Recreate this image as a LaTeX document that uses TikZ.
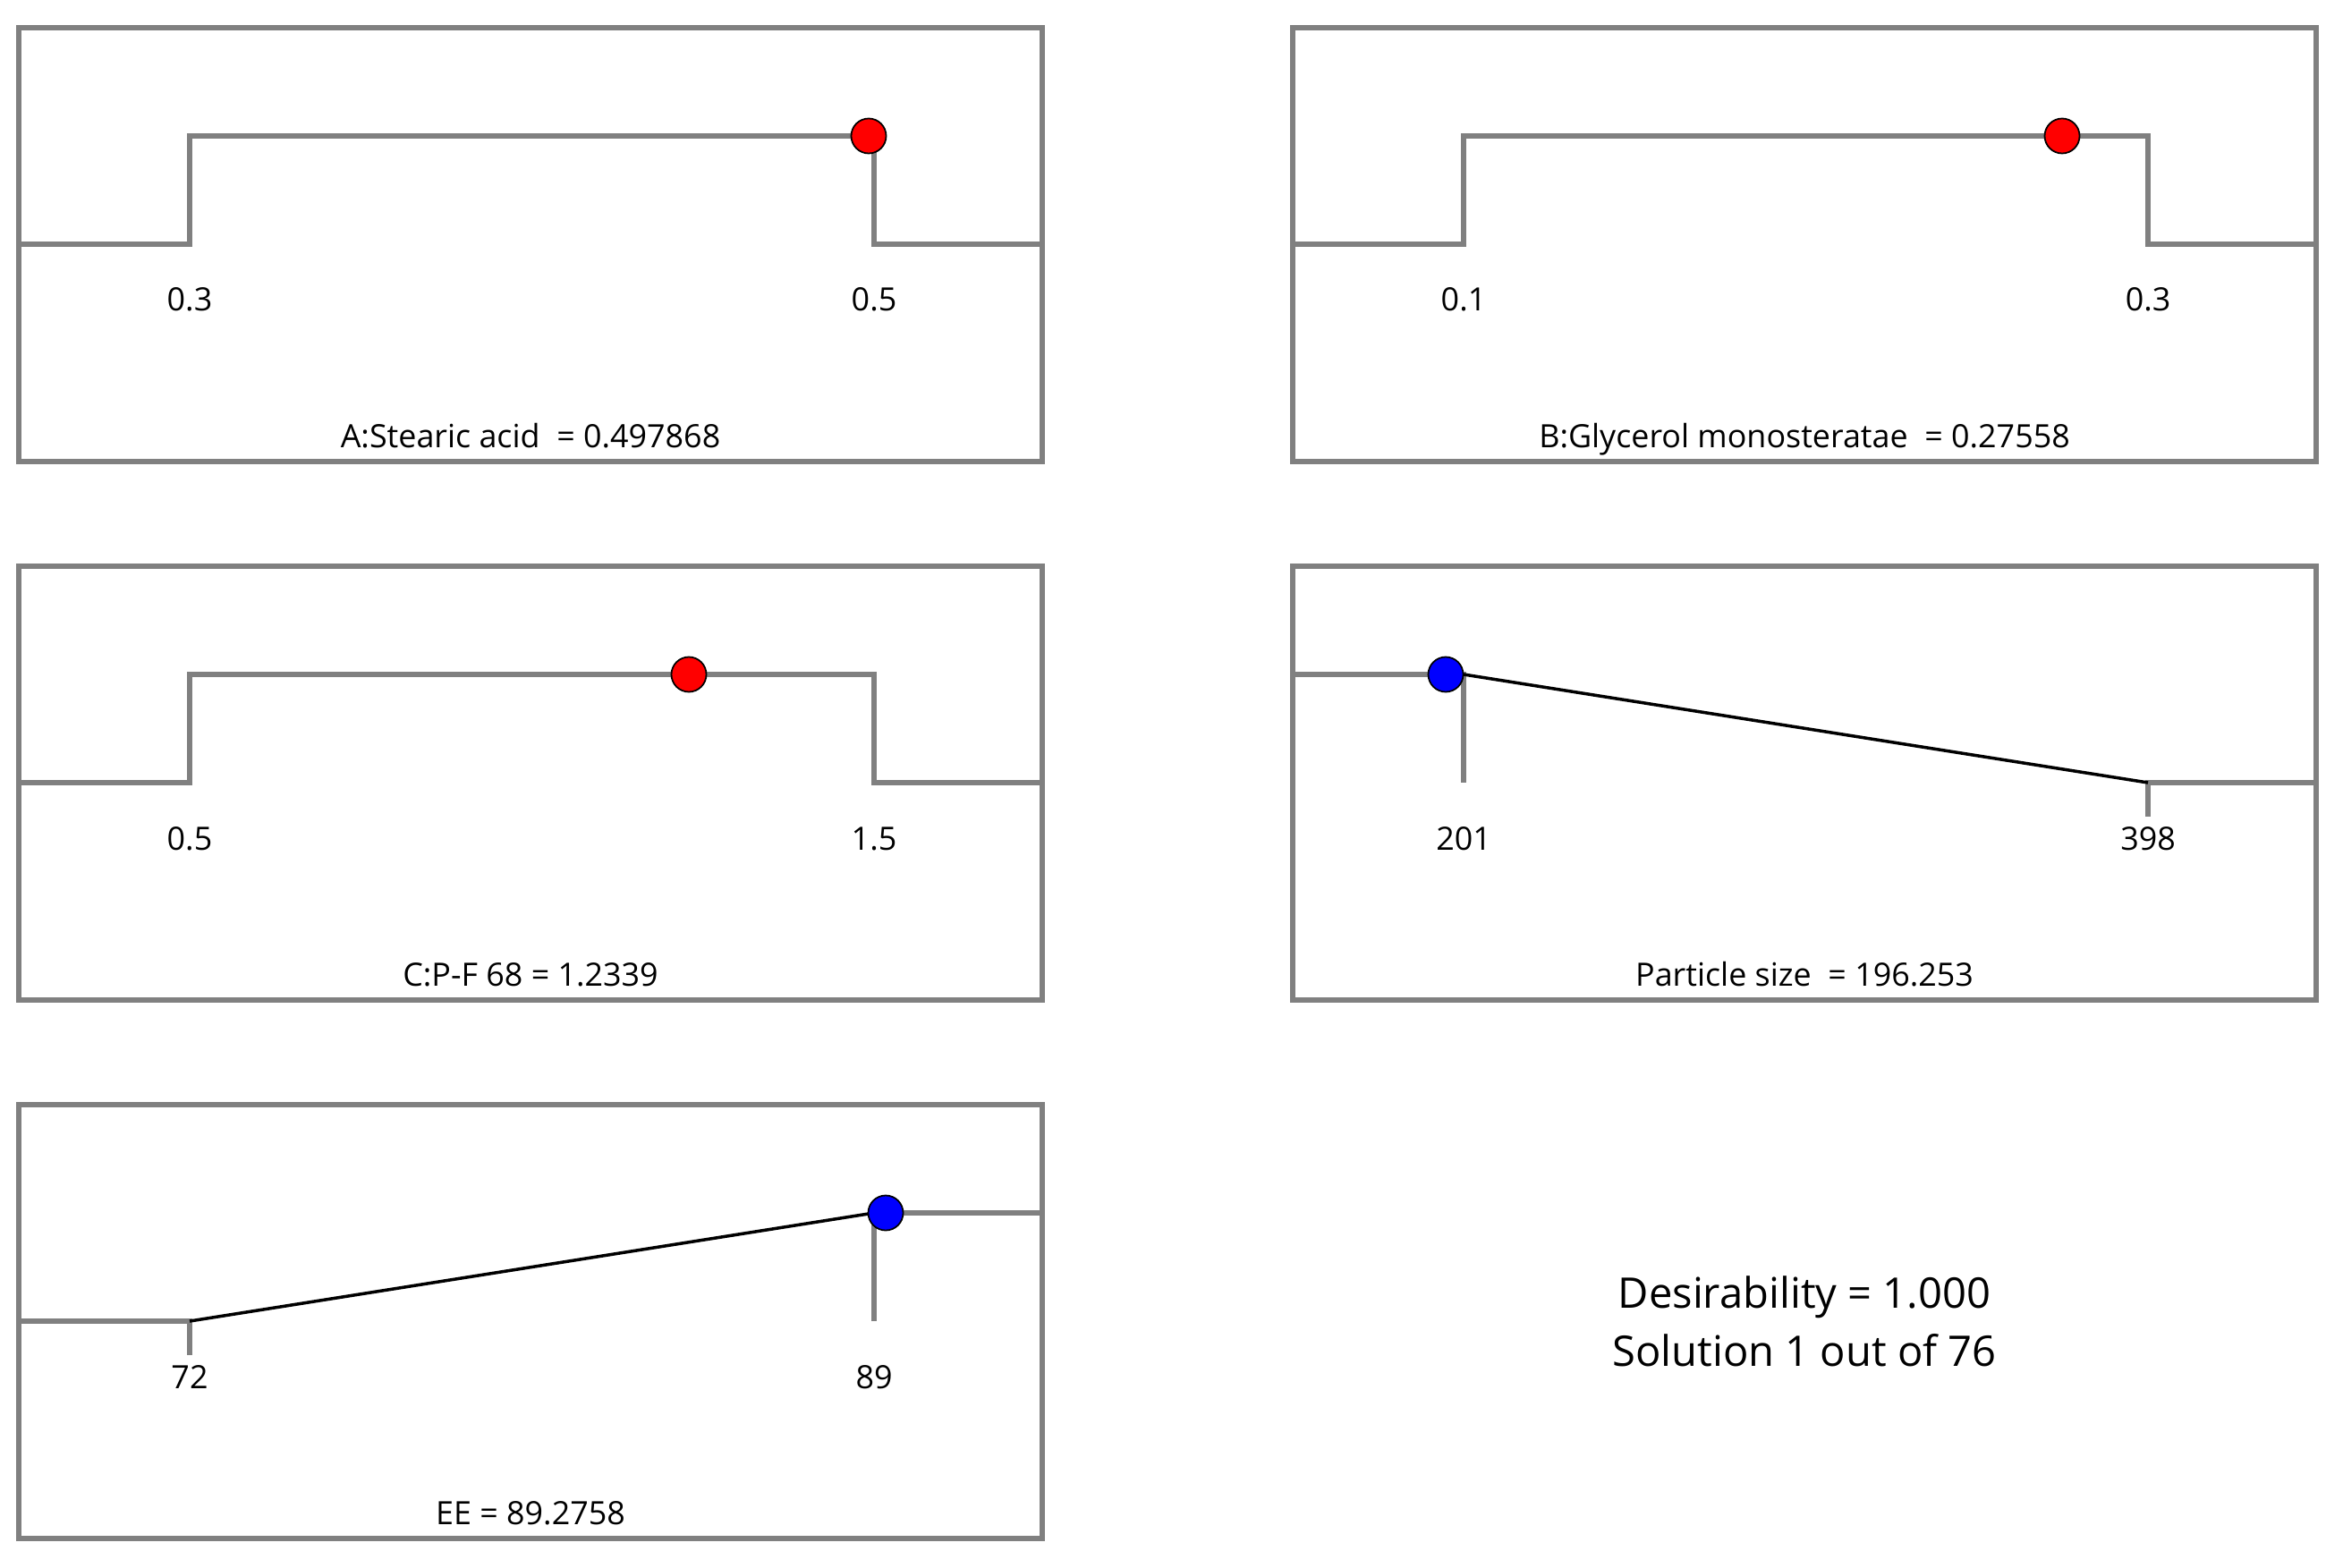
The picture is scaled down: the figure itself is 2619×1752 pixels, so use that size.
\documentclass[tikz,border=0pt]{standalone}
\usepackage{fontspec}
\setmainfont{Open Sans}
\usetikzlibrary{shapes.geometric}

\tikzset{
  panel/.style={draw=gray, line width=1.8pt},
  limit/.style={draw=gray, line width=1.6pt},
  ramp/.style={draw=black, line width=1pt},
  optred/.style={circle, draw=black, fill=red, line width=0.5pt, inner sep=0pt, minimum size=0.39cm},
  optblue/.style={optred, fill=blue},
  lim/.style={font=\fontsize{10.2}{12}\selectfont, anchor=base, inner sep=0pt},
  res/.style={font=\fontsize{13.4}{16}\selectfont, anchor=base, inner sep=0pt},
}

\begin{document}
\begin{tikzpicture}[x=0.01cm, y=-0.01cm]
  \useasboundingbox (0,0) rectangle (2619,1752);

  % A: stearic acid
  \begin{scope}[shift={(21,31)}]
    \draw[panel] (0,0) rectangle (1144,485);
    \draw[limit] (0,242) -- (191,242) -- (191,121) -- (956,121) -- (956,242) -- (1144,242);
    \node[optred] (a-opt) at (950,121) {};
    \node[lim] (a-lo) at (191,317) {0.3};
    \node[lim] (a-hi) at (956,317) {0.5};
    \node[lim] (a-name) at (572,469) {A:Stearic acid\ \ = 0.497868};
  \end{scope}

  % B: glycerol monostearate
  \begin{scope}[shift={(1445,31)}]
    \draw[panel] (0,0) rectangle (1144,485);
    \draw[limit] (0,242) -- (191,242) -- (191,121) -- (956,121) -- (956,242) -- (1144,242);
    \node[optred] (b-opt) at (860,121) {};
    \node[lim] (b-lo) at (191,317) {0.1};
    \node[lim] (b-hi) at (956,317) {0.3};
    \node[lim] (b-name) at (572,469) {B:Glycerol monosteratae\ \ = 0.27558};
  \end{scope}

  % C: P-F 68
  \begin{scope}[shift={(21,633)}]
    \draw[panel] (0,0) rectangle (1144,485);
    \draw[limit] (0,242) -- (191,242) -- (191,121) -- (956,121) -- (956,242) -- (1144,242);
    \node[optred] (c-opt) at (749,121) {};
    \node[lim] (c-lo) at (191,317) {0.5};
    \node[lim] (c-hi) at (956,317) {1.5};
    \node[lim] (c-name) at (572,469) {C:P-F 68 = 1.2339};
  \end{scope}

  % D: particle size (minimise)
  \begin{scope}[shift={(1445,633)}]
    \draw[panel] (0,0) rectangle (1144,485);
    \coordinate (d-top) at (191,121);
    \coordinate (d-bot) at (956,242);
    \draw[limit] (0,121) -- (d-top) -- (191,242);
    \draw[limit] (956,280) -- (d-bot) -- (1144,242);
    \draw[ramp] (d-top) -- (d-bot);
    \node[optblue] (d-opt) at (171,121) {};
    \node[lim] (d-lo) at (191,317) {201};
    \node[lim] (d-hi) at (956,317) {398};
    \node[lim] (d-name) at (572,469) {Particle size\ \ = 196.253};
  \end{scope}

  % E: EE (maximise)
  \begin{scope}[shift={(21,1235)}]
    \draw[panel] (0,0) rectangle (1144,485);
    \coordinate (e-bot) at (191,242);
    \coordinate (e-top) at (956,121);
    \draw[limit] (0,242) -- (e-bot) -- (191,280);
    \draw[limit] (956,242) -- (e-top) -- (1144,121);
    \draw[ramp] (e-bot) -- (e-top);
    \node[optblue] (e-opt) at (969,121) {};
    \node[lim] (e-lo) at (191,317) {72};
    \node[lim] (e-hi) at (956,317) {89};
    \node[lim] (e-name) at (572,469) {EE = 89.2758};
  \end{scope}

  \node[res] (desir) at (2017,1462) {Desirability = 1.000};
  \node[res] (soln) at (2017,1527) {Solution 1 out of 76};
\end{tikzpicture}
\end{document}
